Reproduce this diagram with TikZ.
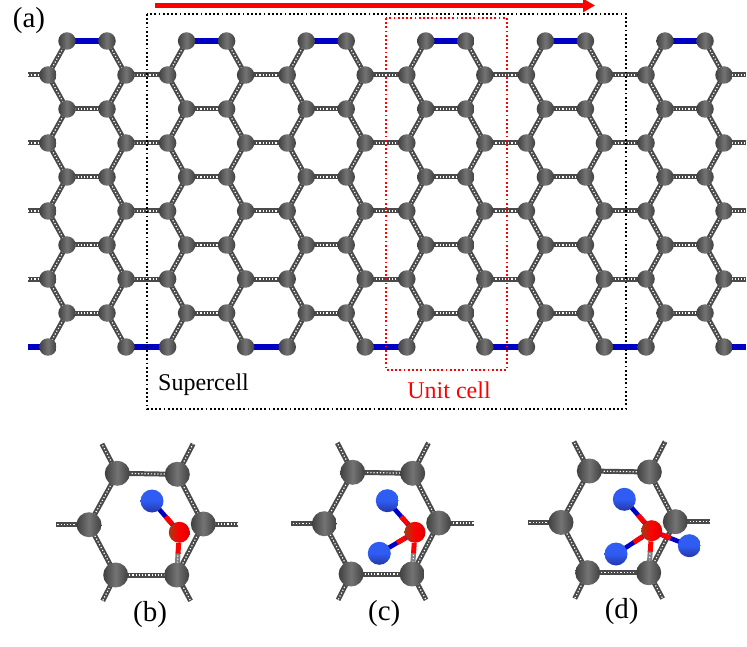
\documentclass[tikz,border=0pt]{standalone}
\usepackage{fontspec}
\setmainfont{Liberation Serif}
\usetikzlibrary{arrows.meta,backgrounds,calc}
\definecolor{bondgray}{HTML}{4A4A4A}
\definecolor{atomdark}{HTML}{404040}
\definecolor{atomlight}{HTML}{747474}
\definecolor{bondblue}{HTML}{0000C4}
\definecolor{hlight}{HTML}{2F5CF2}
\definecolor{hdark}{HTML}{2436A8}
\definecolor{mdark}{HTML}{A53A12}
\tikzset{
	catom/.style={circle,inner sep=0pt,minimum size=#1,left color=atomdark,right color=atomdark,middle color=atomlight},
	catom/.default=17.5pt,
	ratom/.style={circle,inner sep=0pt,minimum size=21pt,left color=mdark,right color=red!85!black,middle color=red},
	hatom/.style={circle,inner sep=0pt,minimum size=23pt,top color=hlight,bottom color=hdark,middle color=hlight},
	cbond/.style={draw=bondgray,line width=5pt,shorten <=-1.5pt,shorten >=-1.5pt,postaction={draw=white,line width=1.2pt,dash pattern=on 1.2pt off 2pt}},
	bbond/.style={draw=bondblue,line width=5.6pt,shorten <=-1.5pt,shorten >=-1.5pt},
	rbond/.style={draw=red,line width=5pt},
	lbl/.style={font=\fontsize{29}{32}\selectfont,inner sep=0pt},
	txt/.style={font=\fontsize{24}{28}\selectfont,inner sep=0pt}
}
\begin{document}
\begin{tikzpicture}[x=1pt,y=-1pt]
	\useasboundingbox (0,0) rectangle (747,647);
	\foreach \row in {0,...,4}{
		\foreach \col in {0,...,5}{
			\pgfmathsetmacro{\xa}{67+119.6*\col}
			\pgfmathsetmacro{\xb}{\xa+40}
			\pgfmathsetmacro{\xc}{48+119.6*\col}
			\pgfmathsetmacro{\xd}{\xc+78}
			\pgfmathsetmacro{\ya}{41+68*\row}
			\pgfmathsetmacro{\yb}{\ya+34}
			\node[catom] (ul\col-\row) at (\xa,\ya) {};
			\node[catom] (ur\col-\row) at (\xb,\ya) {};
			\node[catom] (vl\col-\row) at (\xc,\yb) {};
			\node[catom] (vr\col-\row) at (\xd,\yb) {};
		}
		\pgfmathsetmacro{\yb}{75+68*\row}
		\coordinate (endl\row) at (29.5,\yb);
		\coordinate (endr\row) at (744.5,\yb);
	}
	\begin{scope}[on background layer]
		\foreach \row in {0,...,4}{
			\foreach \col in {0,...,5}{
				\draw[cbond] (ul\col-\row) -- (vl\col-\row);
				\draw[cbond] (ur\col-\row) -- (vr\col-\row);
			}
		}
		\foreach \row [count=\nxt from 1] in {0,...,3}{
			\foreach \col in {0,...,5}{
				\draw[cbond] (vl\col-\row) -- (ul\col-\nxt);
				\draw[cbond] (vr\col-\row) -- (ur\col-\nxt);
				\draw[cbond] (ul\col-\nxt) -- (ur\col-\nxt);
			}
			\foreach \col [count=\nc from 1] in {0,...,4}{
				\draw[cbond] (vr\col-\row) -- (vl\nc-\row);
			}
			\draw[cbond] (endl\row) -- (vl0-\row);
			\draw[cbond] (vr5-\row) -- (endr\row);
		}
		\foreach \col in {0,...,5}{
			\draw[bbond] (ul\col-0) -- (ur\col-0);
		}
		\foreach \col [count=\nc from 1] in {0,...,4}{
			\draw[bbond] (vr\col-4) -- (vl\nc-4);
		}
		\draw[bbond] (endl4) -- (vl0-4);
		\draw[bbond] (vr5-4) -- (endr4);
	\end{scope}
	\draw[line width=1.8pt,dash pattern=on 1.8pt off 2.4pt] (147,14) rectangle (626,409);
	\draw[red,line width=1.8pt,dash pattern=on 1.8pt off 2.4pt] (386,18) rectangle (507,370);
	\coordinate (arrowa) at (155,5.5);
	\coordinate (arrowb) at (595,5.5);
	\draw[red,line width=4.4pt,-{Triangle[length=12pt,width=13pt]}] (arrowa) -- (arrowb);
	\node[lbl] (laba) at (29,21) {(a)};
	\node[txt,anchor=west] (super) at (158,385) {Supercell};
	\node[txt,red] (unit) at (449,390) {Unit cell};
	\foreach \p/\dx/\dy in {b/0/0,c/235.4/-1,d/472/-2.3}{
		\begin{scope}[shift={(\dx,\dy)}]
			\node[catom=25pt] (\p tl) at (117.3,473.3) {};
			\node[catom=25pt] (\p tr) at (177.3,474.3) {};
			\node[catom=25pt] (\p l) at (89,524.7) {};
			\node[catom=25pt] (\p r) at (203.3,524) {};
			\node[catom=25pt] (\p bl) at (115.7,575) {};
			\node[catom=25pt] (\p br) at (176.7,575) {};
			\coordinate (\p stl) at (102.6,445.2);
			\coordinate (\p str) at (192.4,445.2);
			\coordinate (\p sl) at (57.5,524.7);
			\coordinate (\p sr) at (236.8,524);
			\coordinate (\p sbl) at (103.4,599.5);
			\coordinate (\p sbr) at (189.9,599.5);
			\begin{scope}[on background layer]
				\draw[cbond] (\p tl) -- (\p tr);
				\draw[cbond] (\p tr) -- (\p r);
				\draw[cbond] (\p r) -- (\p br);
				\draw[cbond] (\p br) -- (\p bl);
				\draw[cbond] (\p bl) -- (\p l);
				\draw[cbond] (\p l) -- (\p tl);
				\draw[cbond] (\p tl) -- (\p stl);
				\draw[cbond] (\p tr) -- (\p str);
				\draw[cbond] (\p l) -- (\p sl);
				\draw[cbond] (\p r) -- (\p sr);
				\draw[cbond] (\p bl) -- (\p sbl);
				\draw[cbond] (\p br) -- (\p sbr);
			\end{scope}
		\end{scope}
	}
	\node[ratom] (bm) at (179.3,532.3) {};
	\node[hatom] (bh1) at (152,501) {};
	\node[ratom] (cm) at (415,532.3) {};
	\node[hatom] (ch1) at (387.3,500.7) {};
	\node[hatom] (ch2) at (379.3,553.3) {};
	\node[ratom] (dm) at (651.7,530.7) {};
	\node[hatom] (dh1) at (624.3,499.3) {};
	\node[hatom] (dh2) at (616,554) {};
	\node[hatom] (dh3) at (689.3,545.7) {};
	\begin{scope}[on background layer]
		\foreach \p/\h in {b/bh1,c/ch1,c/ch2,d/dh1,d/dh2,d/dh3}{
			\draw[bbond,line width=4.6pt] (\p m) -- (\h);
			\draw[rbond] (\p m) -- ($(\p m)!0.5!(\h)$);
		}
		\foreach \p in {b,c,d}{
			\draw[cbond,draw=gray] ($(\p m)!0.5!(\p br)$) -- (\p br);
			\draw[rbond] (\p m) -- ($(\p m)!0.5!(\p br)$);
		}
	\end{scope}
	\node[lbl] (labb) at (150,615) {(b)};
	\node[lbl] (labc) at (384.3,613.3) {(c)};
	\node[lbl] (labd) at (621.7,611.7) {(d)};
\end{tikzpicture}
\end{document}
